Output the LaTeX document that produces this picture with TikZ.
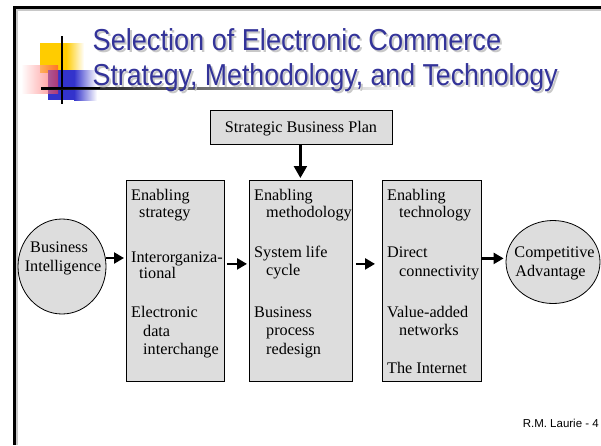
\documentclass[tikz,border=0pt]{standalone}
\usepackage{fontspec}
\setmainfont{Liberation Serif}
\newfontfamily\titlefont{Liberation Sans}
\usetikzlibrary{arrows.meta,shapes.geometric}
\definecolor{boxgray}{HTML}{DDDDDD}
\definecolor{titleblue}{HTML}{333399}
\definecolor{shadowgray}{HTML}{C8C8C8}
\definecolor{logoyellow}{HTML}{FFCC00}
\definecolor{logoblue}{HTML}{3333CC}
\definecolor{logored}{HTML}{FF3C3C}
\newcommand{\shadowtext}[2]{\makebox[0pt][l]{\hspace{2pt}\raisebox{-2pt}{\color{shadowgray}\scalebox{#1}[1]{#2}}}\scalebox{#1}[1]{#2}}
\tikzset{
  box/.style={draw=black, line width=0.8pt, fill=boxgray, inner sep=0pt, anchor=north west},
  oval/.style={ellipse, draw=black, line width=0.8pt, fill=boxgray, inner sep=0pt},
  txt/.style={anchor=base west, inner sep=0pt, font=\fontsize{16.2}{18}\selectfont},
  ctxt/.style={anchor=base, inner sep=0pt, font=\fontsize{16.2}{18}\selectfont},
  flow/.style={line width=2.3pt, -{Triangle[length=10pt,width=11pt]}},
  ttl/.style={anchor=base west, inner sep=0pt, text=titleblue, font=\titlefont\fontsize{30.3}{35}\selectfont},
}
\begin{document}
\begin{tikzpicture}[x=1pt,y=-1pt]
\useasboundingbox[fill=white] (0,0) rectangle (601,445);

% slide frame
\draw[shadowgray, line width=2.5pt] (16,9.5) -- (601,9.5);
\draw[shadowgray, line width=2.5pt] (16.5,9) -- (16.5,445);
\draw[black, line width=2.6pt] (13,7.5) -- (601,7.5);
\draw[black, line width=2.6pt] (14.2,6.2) -- (14.2,445);

% logo
\shade[left color=logoyellow, right color=white] (66,43) rectangle (84,73);
\fill[logoyellow] (40,43) rectangle (67,73);
\shade[left color=logoblue, right color=white] (74,70) rectangle (97,100);
\fill[logoblue] (48,70) rectangle (75,100);
\shade[left color=white, right color=logored, opacity=0.6] (21,65) rectangle (58,93);
\draw[black, line width=1.6pt] (62,36) -- (62,104);
\shade[left color=black, middle color=gray!70, right color=white] (41,87) rectangle (410,89.3);
\fill[black] (41,87) rectangle (100,89.3);

% title
\node[ttl] (t1) at (92.5,50) {\shadowtext{0.895}{Selection of Electronic Commerce}};
\node[ttl] (t2) at (92.5,85) {\shadowtext{0.881}{Strategy, Methodology, and Technology}};

% nodes
\node[box, minimum width=182pt, minimum height=34pt] (sbp) at (210,110) {};
\node[ctxt] at (301,132) {Strategic Business Plan};

\node[box, minimum width=98pt, minimum height=201pt] (b1) at (126,180) {};
\node[box, minimum width=103pt, minimum height=201pt] (b2) at (249,180) {};
\node[box, minimum width=99pt, minimum height=201pt] (b3) at (382,180) {};

\node[oval, minimum width=88pt, minimum height=95pt] (bi) at (62,266.5) {};
\node[oval, minimum width=94pt, minimum height=83pt] (ca) at (553,262) {};

% ellipse texts
\node[ctxt] at (59,252) {Business};
\node[ctxt] at (63,271.5) {Intelligence};
\node[ctxt] at (554.5,257.5) {Competitive};
\node[ctxt] at (550.5,276.5) {Advantage};

% box 1
\node[txt] at (131,200) {Enabling};
\node[txt] at (139,217.5) {strategy};
\node[txt] at (131,262) {Interorganiza-};
\node[txt] at (139,278) {tional};
\node[txt] at (131,317) {Electronic};
\node[txt] at (143,336) {data};
\node[txt] at (143,354.5) {interchange};

% box 2
\node[txt] at (254,200) {Enabling};
\node[txt] at (266,217.5) {methodology};
\node[txt] at (254,257) {System life};
\node[txt] at (266,275) {cycle};
\node[txt] at (254,317) {Business};
\node[txt] at (266,335.5) {process};
\node[txt] at (266,354) {redesign};

% box 3
\node[txt] at (387,200) {Enabling};
\node[txt] at (399,217.5) {technology};
\node[txt] at (387,257) {Direct};
\node[txt] at (399,276) {connectivity};
\node[txt] at (387,317) {Value-added};
\node[txt] at (399,335.5) {networks};
\node[txt] at (387,373.5) {The Internet};

% connectors
\draw[flow, -{Triangle[length=12pt,width=13pt]}, shorten >=2pt] ([xshift=-1pt]sbp.south) -- ([xshift=-1pt]sbp.south |- b2.north);
\draw[flow, shorten >=2pt] ([yshift=8.5pt]bi.east) -- ([yshift=8.5pt]bi.east -| b1.west);
\draw[flow, shorten <=2pt, shorten >=2pt] ([yshift=17pt]b1.east) -- ([yshift=17pt]b2.west);
\draw[flow, shorten <=3pt, shorten >=7pt] ([yshift=17pt]b2.east) -- ([yshift=17pt]b3.west);
\draw[flow, shorten >=2pt] ([yshift=22.5pt]b3.east) -- ([yshift=22.5pt]b3.east -| ca.west);

% footer
\node[anchor=base east, inner sep=0pt, font=\titlefont\fontsize{11.5}{13}\selectfont] (ft) at (599,427) {R.M. Laurie - 4};
\end{tikzpicture}
\end{document}
